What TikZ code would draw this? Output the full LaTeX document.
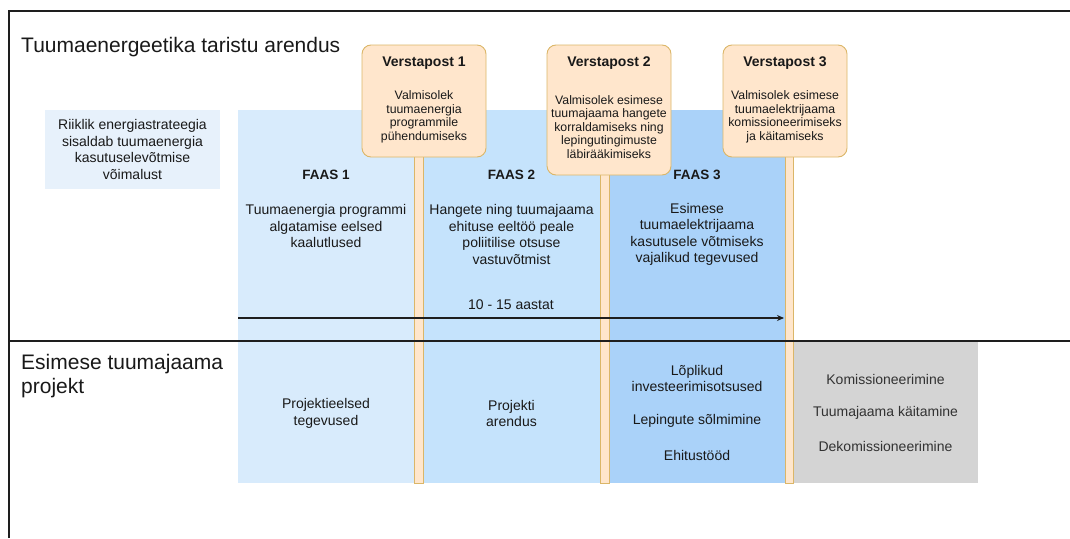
\documentclass[tikz,border=0pt]{standalone}
\usepackage{fontspec}
\setmainfont{Liberation Sans}
\usetikzlibrary{arrows.meta}
\definecolor{faasA}{RGB}{216,235,252}
\definecolor{faasB}{RGB}{197,227,252}
\definecolor{faasC}{RGB}{170,210,249}
\definecolor{riikfill}{RGB}{231,241,251}
\definecolor{grayfill}{RGB}{212,212,212}
\definecolor{peach}{RGB}{255,230,204}
\definecolor{gold}{RGB}{219,182,104}
\definecolor{linec}{RGB}{30,30,30}
\definecolor{txtc}{RGB}{25,25,25}
\definecolor{graytxt}{RGB}{50,50,50}
\begin{document}
\begin{tikzpicture}[x=1pt,y=-1pt,
  area/.style={inner sep=0pt, outer sep=0pt, anchor=north west, draw=none},
  vbox/.style={area, fill=peach, draw=gold, line width=0.9pt, rounded corners=9pt},
  pole/.style={fill=peach, draw=gold, line width=0.7pt},
  frameline/.style={draw=linec, line width=1.8pt},
  body/.style={align=center, text=txtc, inner sep=0pt, font=\fontsize{14}{16.5}\selectfont},
  vbody/.style={align=center, text=txtc, inner sep=0pt, font=\fontsize{12.3}{13.6}\selectfont},
  vtitle/.style={text=txtc, inner sep=0pt, font=\fontsize{14}{16}\selectfont\bfseries},
  faas/.style={text=txtc, inner sep=0pt, font=\fontsize{13.5}{16}\selectfont\bfseries},
  bigtitle/.style={text=txtc, inner sep=0pt, align=left, font=\fontsize{21}{23.5}\selectfont},
  graybody/.style={body, text=graytxt}
]
\useasboundingbox (0,0) rectangle (1070,538);
% phase columns
\node[area, fill=faasA, minimum width=176pt, minimum height=373pt] (col1) at (238,110) {};
\node[area, fill=faasB, minimum width=177pt, minimum height=373pt] (col2) at (423,110) {};
\node[area, fill=faasC, minimum width=176pt, minimum height=373pt] (col3) at (609,110) {};
\node[area, fill=grayfill, minimum width=185pt, minimum height=141pt] (grayb) at (793,342) {};
\node[area, fill=riikfill, minimum width=175pt, minimum height=79pt] (riik) at (45,110) {};
% milestone poles
\draw[pole] (414,150) rectangle (423,483);
\draw[pole] (600,170) rectangle (609,483);
\draw[pole] (785,150) rectangle (793,483);
% milestone boxes
\node[vbox, minimum width=124pt, minimum height=112pt] (v1) at (362,45) {};
\node[vbox, minimum width=124pt, minimum height=130pt] (v2) at (547,45) {};
\node[vbox, minimum width=124pt, minimum height=112pt] (v3) at (723,45) {};
% frame lines
\draw[frameline] (9,538) -- (9,11) -- (1070,11);
\draw[frameline] (9,341) -- (1070,341);
% time arrow
\coordinate (arrS) at (238,318);
\coordinate (arrE) at (784,318);
\draw[draw=linec, line width=1.1pt, -{Stealth[length=7pt,width=6pt]}] (arrS) -- (arrE);
% texts
\node[bigtitle, anchor=west] (t1) at (21,47) {Tuumaenergeetika taristu arendus};
\node[bigtitle, anchor=west] (t2) at (21,376) {Esimese tuumajaama\\projekt};
\node[body] (riiktxt) at (132.5,149.5) {Riiklik energiastrateegia\\sisaldab tuumaenergia\\kasutuselevõtmise\\võimalust};
\node[vtitle] (v1t) at (424,63) {Verstapost 1};
\node[vtitle] (v2t) at (609,63) {Verstapost 2};
\node[vtitle] (v3t) at (785,63) {Verstapost 3};
\node[vbody] (v1b) at (424,117) {Valmisolek\\tuumaenergia\\programmile\\pühendumiseks};
\node[vbody] (v2b) at (609,127) {Valmisolek esimese\\tuumajaama hangete\\korraldamiseks ning\\lepingutingimuste\\läbirääkimiseks};
\node[vbody] (v3b) at (785,117) {Valmisolek esimese\\tuumaelektrijaama\\komissioneerimiseks\\ja käitamiseks};
\node[faas] (f1) at (326,175) {FAAS 1};
\node[faas] (f2) at (511.5,175) {FAAS 2};
\node[faas] (f3) at (697,175) {FAAS 3};
\node[body] (f1b) at (326,226) {Tuumaenergia programmi\\algatamise eelsed\\kaalutlused};
\node[body] (f2b) at (511.5,234.5) {Hangete ning tuumajaama\\ehituse eeltöö peale\\poliitilise otsuse\\vastuvõtmist};
\node[body] (f3b) at (697,234.5) {Esimese\\tuumaelektrijaama\\kasutusele võtmiseks\\vajalikud tegevused};
\node[body] (dur) at (511,305) {10 - 15 aastat};
\node[body] (p1) at (326,413.5) {Projektieelsed\\tegevused};
\node[body] (p2) at (511.5,413.5) {Projekti\\arendus};
\node[body] (p3a) at (697,378.3) {Lõplikud\\investeerimisotsused};
\node[body] (p3b) at (697,420.7) {Lepingute sõlmimine};
\node[body] (p3c) at (697,455) {Ehitustööd};
\node[graybody] (g1) at (885.5,379) {Komissioneerimine};
\node[graybody] (g2) at (885.5,412.7) {Tuumajaama käitamine};
\node[graybody] (g3) at (885.5,446.7) {Dekomissioneerimine};
\end{tikzpicture}
\end{document}
